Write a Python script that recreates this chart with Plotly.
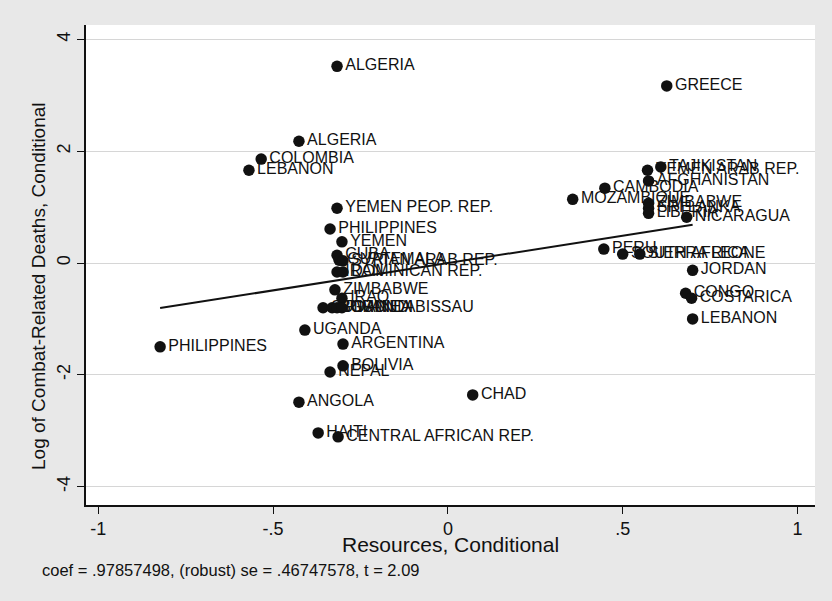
import plotly.graph_objects as go

# Data (added-variable plot)
countries = [
    "ALGERIA", "GREECE", "ALGERIA", "COLOMBIA", "LEBANON",
    "YEMEN PEOP. REP.", "PHILIPPINES", "YEMEN", "CUBA", "GUATEMALA",
    "SYRIAN ARAB REP.", "IRAN", "DOMINICAN REP.", "ZIMBABWE", "IRAQ",
    "SUDAN", "BURUNDI", "RWANDA", "GUINEA BISSAU", "UGANDA",
    "ARGENTINA", "BOLIVIA", "NEPAL", "PHILIPPINES", "ANGOLA",
    "CHAD", "HAITI", "CENTRAL AFRICAN REP.",
    "TAJIKISTAN", "YEMEN ARAB REP.", "AFGHANISTAN", "CAMBODIA", "MOZAMBIQUE",
    "ZIMBABWE", "SRI LANKA", "LIBERIA", "NICARAGUA", "PERU",
    "SOUTH AFRICA", "SIERRA LEONE", "JORDAN", "CONGO", "COSTARICA", "LEBANON",
]
resources = [
    -0.317, 0.626, -0.426, -0.534, -0.569,
    -0.317, -0.337, -0.303, -0.317, -0.311,
    -0.300, -0.317, -0.300, -0.323, -0.303,
    -0.357, -0.331, -0.317, -0.303, -0.409,
    -0.300, -0.300, -0.337, -0.823, -0.426,
    0.071, -0.371, -0.314,
    0.609, 0.571, 0.574, 0.449, 0.357,
    0.574, 0.574, 0.574, 0.683, 0.446,
    0.500, 0.549, 0.700, 0.680, 0.697, 0.700,
]
deaths = [
    3.52, 3.17, 2.18, 1.86, 1.66,
    0.98, 0.61, 0.38, 0.14, 0.05,
    0.04, -0.16, -0.16, -0.48, -0.63,
    -0.80, -0.80, -0.80, -0.80, -1.20,
    -1.45, -1.84, -1.95, -1.50, -2.49,
    -2.36, -3.04, -3.11,
    1.72, 1.66, 1.47, 1.34, 1.14,
    1.07, 0.98, 0.89, 0.82, 0.25,
    0.16, 0.16, -0.13, -0.54, -0.63, -1.00,
]
coef = 0.97857498
note = "coef = .97857498, (robust) se = .46747578, t = 2.09"
x_title = "Resources, Conditional"
y_title = "Log of Combat-Related Deaths, Conditional"

x_ticks = [-1, -0.5, 0, 0.5, 1]
x_ticktext = ["-1", "-.5", "0", ".5", "1"]
y_ticks = [-4, -2, 0, 2, 4]
y_ticktext = ["-4", "-2", "0", "2", "4"]

FONT = "Liberation Sans, Arial, sans-serif"

xmin, xmax = min(resources), max(resources)

fig = go.Figure()
fig.add_trace(go.Scatter(
    x=resources, y=deaths, mode="markers+text", text=countries,
    textposition="middle right",
    textfont=dict(family=FONT, size=16, color="#111111"),
    marker=dict(color="#111111", size=11.5),
    cliponaxis=False, showlegend=False,
))
fig.add_trace(go.Scatter(
    x=[xmin, xmax], y=[coef * xmin, coef * xmax], mode="lines",
    line=dict(color="#111111", width=2), showlegend=False,
))

fig.update_layout(
    width=832, height=601,
    margin=dict(l=86, r=17, t=25, b=96),
    paper_bgcolor="#e8e8e8", plot_bgcolor="#ffffff",
    font=dict(family=FONT, color="#111111"),
    xaxis=dict(
        range=[-1.035, 1.05], tickvals=x_ticks, ticktext=x_ticktext,
        showgrid=False, zeroline=False, showline=True, linecolor="#111111", linewidth=1.5,
        ticks="outside", ticklen=7, tickcolor="#111111",
        tickfont=dict(size=18),
    ),
    yaxis=dict(
        range=[-4.33, 4.26], tickvals=y_ticks, ticktext=y_ticktext,
        showgrid=True, gridcolor="#d6d6d6", gridwidth=1,
        zeroline=False, showline=True, linecolor="#111111", linewidth=1.5,
        ticks="outside", ticklen=7, tickcolor="#111111", tickangle=-90,
        tickfont=dict(size=18),
    ),
    annotations=[
        dict(text=x_title, xref="paper", yref="paper", x=0.5, y=-0.083,
             xanchor="center", yanchor="middle", showarrow=False,
             font=dict(family=FONT, size=21, color="#111111")),
        dict(text=y_title, xref="paper", yref="paper", x=-0.066, y=0.456,
             xanchor="center", yanchor="middle", showarrow=False, textangle=-90,
             font=dict(family=FONT, size=19, color="#111111")),
        dict(text=note, xref="paper", yref="paper", x=-0.063, y=-0.135,
             xanchor="left", yanchor="middle", showarrow=False,
             font=dict(family=FONT, size=16.5, color="#111111")),
    ],
)

fig.write_html("out.html")
